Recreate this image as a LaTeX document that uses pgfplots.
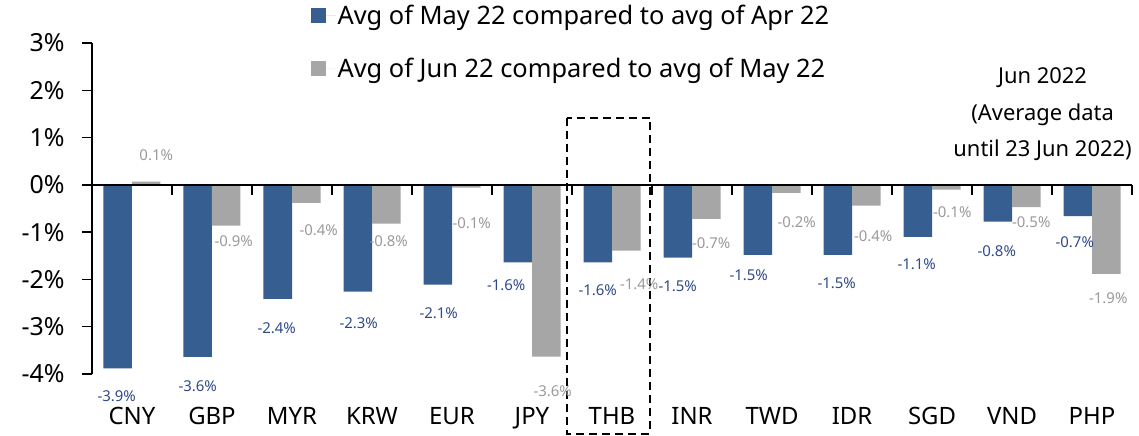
\documentclass[border=0pt]{standalone}
\usepackage{pgfplots}
\pgfplotsset{compat=1.18}
\usepackage{pgfplotstable}
\usepackage{fontspec}
\setmainfont{Noto Sans}
\definecolor{cblue}{HTML}{365E91}
\definecolor{cgray}{HTML}{A6A6A6}
\definecolor{lblue}{HTML}{2F4A8A}
\definecolor{lgray}{HTML}{9A9A9A}

\pgfplotstableread{
x y dx dy
0 -3.88 -1 -28
1 -3.64 0 -29
2 -2.41 -1 -29
3 -2.26 1 -31
4 -2.11 1 -29
5 -1.64 -11.5 -23
6 -1.64 0 -28
7 -1.54 0 -29
8 -1.48 -9 -20
9 -1.48 -1 -28
10 -1.10 -1 -27
11 -0.78 -1 -29
12 -0.66 -3 -26
}\tblue

\pgfplotstableread{
x y dx dy
0 0.07 10 26
1 -0.86 7.5 -16
2 -0.38 12.5 -27
3 -0.82 2.5 -18
4 -0.06 5.5 -35
5 -3.63 6.5 -35
6 -1.39 13 -34
7 -0.72 5 -24
8 -0.17 10.5 -29
9 -0.44 7 -31
10 -0.10 6 -23
11 -0.47 5 -15
12 -1.88 2 -24
}\tgray

\begin{document}
\begin{tikzpicture}
\begin{axis}[
  name=ax,
  scale only axis, width=1040bp, height=331bp,
  xmin=-0.5, xmax=12.5, ymin=-4, ymax=3,
  ybar=0pt, bar width=28.5bp,
  axis x line*=bottom, axis y line*=left,
  x axis line style={draw=none},
  y axis line style={line width=1.5bp, black},
  xtick={0,...,12},
  xticklabels={CNY,GBP,MYR,KRW,EUR,JPY,THB,INR,TWD,IDR,SGD,VND,PHP},
  x tick style={draw=none},
  x tick label style={font=\fontsize{24}{28}\selectfont, anchor=north, yshift=-20bp},
  ytick={-4,...,3},
  yticklabel={\pgfmathprintnumber{\tick}\%},
  /pgf/number format/assume math mode=true,
  y tick label style={font=\fontsize{25}{29}\selectfont, anchor=east, xshift=-14bp},
  y tick style={line width=1.5bp, black},
  tick align=outside, major tick length=10bp,
  clip=false,
  nodes near coords={\pgfmathprintnumber[fixed,fixed zerofill,precision=1]{\pgfplotspointmeta}\%},
  legend style={at={(axis description cs:0.21,1.12)}, anchor=north west, draw=none, fill=none,
    font=\fontsize{25.5}{29}\selectfont, row sep=28bp, inner sep=0pt},
  legend cell align=left,
]
\addplot[fill=cblue, draw=none,
  visualization depends on={\thisrow{dx} \as \dx},
  visualization depends on={\thisrow{dy} \as \dy},
  every node near coord/.append style={anchor=center, xshift=\dx bp, yshift=\dy bp,
    font=\fontsize{15}{18}\selectfont, text=lblue},
  legend image code/.code={\fill[cblue] (0bp,-7.5bp) rectangle (15bp,7.5bp); \path (0bp,0bp) -- (25bp,0bp);}]
  table[x=x,y=y]{\tblue};
\addlegendentry{Avg of May 22 compared to avg of Apr 22}
\addplot[fill=cgray, draw=none,
  visualization depends on={\thisrow{dx} \as \dx},
  visualization depends on={\thisrow{dy} \as \dy},
  every node near coord/.append style={anchor=center, xshift=\dx bp, yshift=\dy bp,
    font=\fontsize{15}{18}\selectfont, text=lgray},
  legend image code/.code={\fill[cgray] (0bp,-7.5bp) rectangle (15bp,7.5bp); \path (0bp,0bp) -- (25bp,0bp);}]
  table[x=x,y=y]{\tgray};
\addlegendentry{Avg of Jun 22 compared to avg of May 22}
\draw[line width=1.5bp] (axis cs:-0.5,0) -- (axis cs:12.5,0);
\foreach \t in {-0.5,0.5,1.5,2.5,3.5,4.5,5.5,6.5,7.5,8.5,9.5,10.5,11.5,12.5}{
  \edef\temp{\noexpand\draw[line width=1.5bp] (axis cs:\t,0) -- ([yshift=-10bp]axis cs:\t,0);}
  \temp
}
\draw[dash pattern=on 8bp off 5bp, line width=2bp] (axis cs:5.44,1.42) rectangle (axis cs:6.475,-5.26);
\node[align=center, font=\fontsize{22}{37}\selectfont] at (axis description cs:0.914,0.785)
  {Jun 2022\\(Average data\\until 23 Jun 2022)};
\end{axis}
\pgfresetboundingbox
\useasboundingbox ([shift={(-92bp,-62bp)}]ax.south west) rectangle ([shift={(1047bp,374bp)}]ax.south west);
\end{tikzpicture}
\end{document}
